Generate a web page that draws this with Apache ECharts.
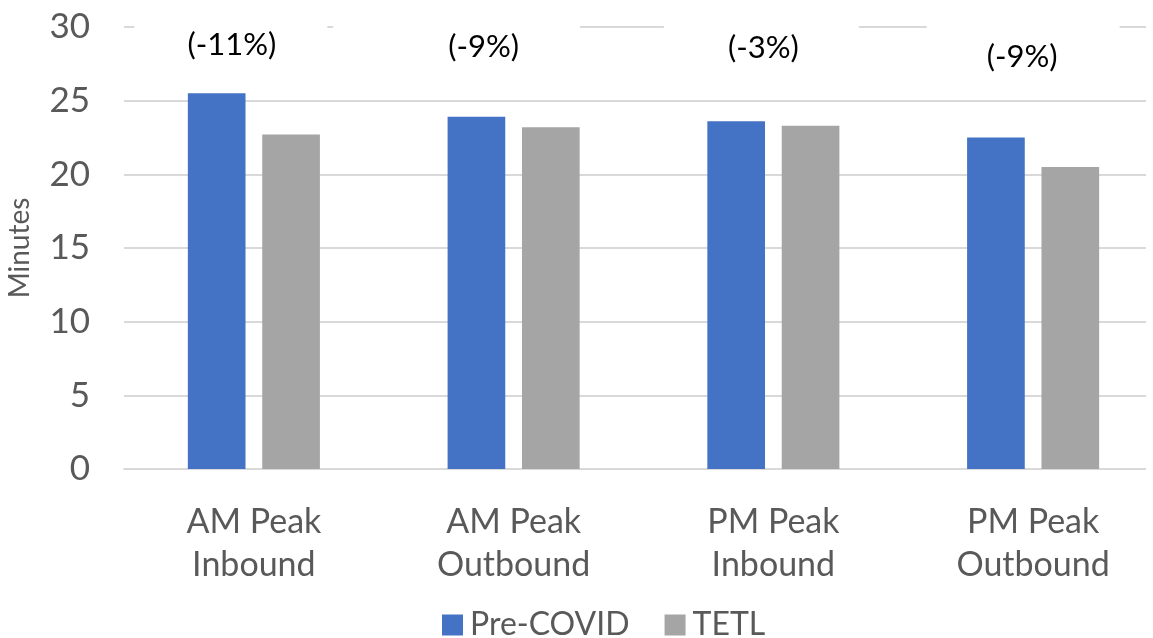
<!DOCTYPE html>
<html><head><meta charset="utf-8">
<script src="https://cdn.jsdelivr.net/npm/echarts@6/dist/echarts.min.js"></script>
<style>html,body{margin:0;padding:0;background:#fff}#c{width:1153px;height:638px}</style>
</head><body><div id="c"></div>
<script>
const categories = ['AM Peak\nInbound', 'AM Peak\nOutbound', 'PM Peak\nInbound', 'PM Peak\nOutbound'];
const preCovid = [25.5, 23.9, 23.6, 22.5];
const tetl = [22.7, 23.2, 23.3, 20.5];
const changeLabels = ['(-11%)', '(-9%)', '(-3%)', '(-9%)'];
const labelY = [28.8, 28.65, 28.6, 27.95];
const labelDx = [-22, -30, -10, -11];
const labelPadL = [53, 115, 64, 60];
const labelPadR = [51, 61, 60, 62];

const FONT = 'Lato, "Open Sans", sans-serif';
const chart = echarts.init(document.getElementById('c'));
chart.setOption({
  animation: false,
  grid: {left: 124, width: 1039, top: 27, bottom: 169, outerBoundsMode: 'none', containLabel: false},
  legend: {
    top: 604, left: 437, itemWidth: 21, itemHeight: 21, itemGap: 35,
    icon: 'rect',
    textStyle: {fontFamily: FONT, fontSize: 32, color: '#595959', padding: [0, 0, 0, 2]},
    data: ['Pre-COVID', 'TETL']
  },
  xAxis: {
    type: 'category', data: categories,
    axisLine: {lineStyle: {color: '#d9d9d9', width: 2}},
    axisTick: {show: false},
    axisLabel: {fontFamily: FONT, fontSize: 34, color: '#595959', lineHeight: 43.5, margin: 31}
  },
  yAxis: {
    type: 'value', min: 0, max: 30, interval: 5,
    name: 'Minutes', nameLocation: 'middle', nameGap: 90, nameRotate: 90,
    nameTextStyle: {fontFamily: FONT, fontSize: 28, color: '#595959'},
    axisLine: {show: false}, axisTick: {show: false},
    axisLabel: {fontFamily: FONT, fontSize: 35, color: '#595959', margin: 34},
    splitLine: {lineStyle: {color: '#d9d9d9', width: 2}}
  },
  series: [
    {name: 'Pre-COVID', type: 'bar', data: preCovid, barWidth: '22.2%', barGap: '29%',
     itemStyle: {color: '#4472C4'}},
    {name: 'TETL', type: 'bar', data: tetl, barWidth: '22.2%',
     itemStyle: {color: '#A5A5A5'}}
  ]
});
const g = changeLabels.map((t, i) => {
  const p = chart.convertToPixel({gridIndex: 0}, [i, labelY[i]]);
  const cx = p[0] + labelDx[i];
  return {type: 'text', x: cx - (labelPadL[i] - labelPadR[i]) / 2, y: p[1], z: 10,
    style: {text: t, fontFamily: FONT, fontSize: 31, fill: '#000',
      align: 'center', verticalAlign: 'middle', backgroundColor: '#fff',
      padding: [18, labelPadR[i], 18, labelPadL[i]]}};
});
g.push({type: 'rect', z: 10, shape: {x: 1146, y: 0, width: 10, height: 480}, style: {fill: '#fff'}});
chart.setOption({graphic: g});
</script></body></html>
